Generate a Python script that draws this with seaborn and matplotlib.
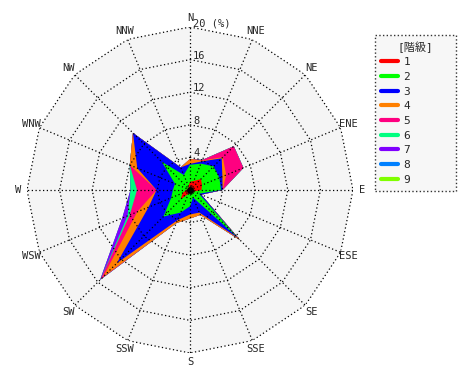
import numpy as np
import matplotlib
matplotlib.use("Agg")
import matplotlib.pyplot as plt
import matplotlib.transforms as mtransforms
from matplotlib.lines import Line2D
import seaborn as sns

directions = ["N", "NNE", "NE", "ENE", "E", "ESE", "SE", "SSE",
              "S", "SSW", "SW", "WSW", "W", "WNW", "NW", "NNW"]
class_labels = ["1", "2", "3", "4", "5", "6", "7", "8", "9"]
class_colors = ["#ff0000", "#00ff00", "#0000ff", "#ff8000", "#ff0080",
                "#00ff80", "#8000ff", "#0080ff", "#80ff00"]
ring_values = [4, 8, 12, 16, 20]

# frequency (%) of each class, by direction (N, NNE, ... NNW)
freq_1 = [1.0, 1.2, 1.9, 1.6, 1.4, 0.5, 0.5, 0.3, 0.3, 0.5, 1.6, 1.0, 0.5, 0.3, 0.3, 0.5]
freq_2 = [2.1, 2.3, 2.2, 2.3, 2.4, 0.7, 7.6, 0.7, 1.7, 2.5, 3.0, 1.5, 1.6, 1.7, 4.6, 1.5]
freq_3 = [0.1, 0.3, 1.4, 0.4, 0.2, 0.3, 0.2, 2.0, 1.0, 1.0, 8.1, 3.0, 2.0, 5.0, 5.0, 1.0]
freq_4 = [0.6, 0.1, 0.2, 0.5, 0.0, 0.0, 0.4, 0.3, 0.5, 0.4, 2.4, 1.5, 0.0, 1.0, 0.0, 0.0]
freq_5 = [0.0, 0.1, 1.9, 2.3, 0.0, 0.0, 0.0, 0.0, 0.0, 0.0, 0.4, 1.0, 2.4, 0.0, 0.0, 0.0]
freq_6 = [0.0, 0.0, 0.0, 0.0, 0.0, 0.0, 0.0, 0.0, 0.0, 0.0, 0.0, 0.3, 0.8, 0.0, 0.0, 0.0]
freq_7 = [0.0, 0.0, 0.0, 0.0, 0.0, 0.0, 0.0, 0.0, 0.0, 0.0, 0.1, 0.7, 0.0, 0.0, 0.0, 0.0]
freq_8 = [0.0, 0.0, 0.0, 0.0, 0.0, 0.0, 0.0, 0.0, 0.0, 0.0, 0.0, 0.0, 0.0, 0.0, 0.0, 0.0]
freq_9 = [0.0, 0.0, 0.0, 0.0, 0.0, 0.0, 0.0, 0.0, 0.0, 0.0, 0.0, 0.0, 0.0, 0.0, 0.0, 0.0]

sns.set_theme(style="white")
plt.rcParams['font.family'] = ['DejaVu Sans Mono', 'Noto Sans CJK JP']

freqs = np.array([freq_1, freq_2, freq_3, freq_4, freq_5, freq_6, freq_7, freq_8, freq_9])
cum = np.cumsum(freqs, axis=0)
palette = sns.color_palette(class_colors)

theta = np.deg2rad(np.arange(len(directions)) * 22.5)
theta_c = np.append(theta, theta[0] + 2 * np.pi)

fig = plt.figure(figsize=(4.7, 3.8), dpi=100)
ax = fig.add_axes([27 / 470, 27 / 380, 326 / 470, 326 / 380], projection='polar')
ax.set_theta_zero_location('N')
ax.set_theta_direction(-1)
ax.set_ylim(0, 20)
ax.set_axis_off()

# grey background polygon
ax.fill(theta_c, [20] * len(theta_c), color='#f5f5f5', zorder=0, lw=0)

# stacked classes, outermost first
for k in range(len(class_labels) - 1, -1, -1):
    r = np.append(cum[k], cum[k][0])
    ax.fill(theta_c, r, color=palette[k], lw=0, zorder=1)

# polygon grid
dots = (0, (1, 2))
for rv in ring_values:
    ax.plot(theta_c, [rv] * len(theta_c), color='black', lw=0.9, ls=dots, zorder=2)
for t in theta:
    ax.plot([t, t], [0, 20], color='black', lw=0.9, ls=dots, zorder=2)

ax.plot([0], [0], 'o', color='black', ms=4, zorder=3)

# direction labels
for t, d in zip(theta, directions):
    ax.text(t, 21.1, d, ha='center', va='center', fontsize=7.5)

# ring labels
off = mtransforms.offset_copy(ax.transData, fig=fig, x=3, y=-1, units='dots')
for rv in ring_values:
    lab = "20 (%)" if rv == 20 else str(rv)
    ax.text(0, rv, lab, transform=off, ha='left', va='bottom', fontsize=7.5)

handles = [Line2D([], [], color=palette[i], lw=3) for i in range(len(class_labels))]
leg = fig.legend(handles, class_labels, title="[階級]", loc='upper left',
                 bbox_to_anchor=(375 / 470, 1 - 195 / 380, 81 / 470, 160 / 380),
                 mode='expand', fontsize=8, title_fontsize=8, frameon=True,
                 fancybox=False, handlelength=1.5, handletextpad=0.5,
                 labelspacing=0.42, borderpad=0.55, borderaxespad=0)
frame = leg.get_frame()
frame.set_facecolor('#f5f5f5')
frame.set_edgecolor('black')
frame.set_linestyle(':')
frame.set_linewidth(1.0)

fig.savefig("out.png", dpi=100)
